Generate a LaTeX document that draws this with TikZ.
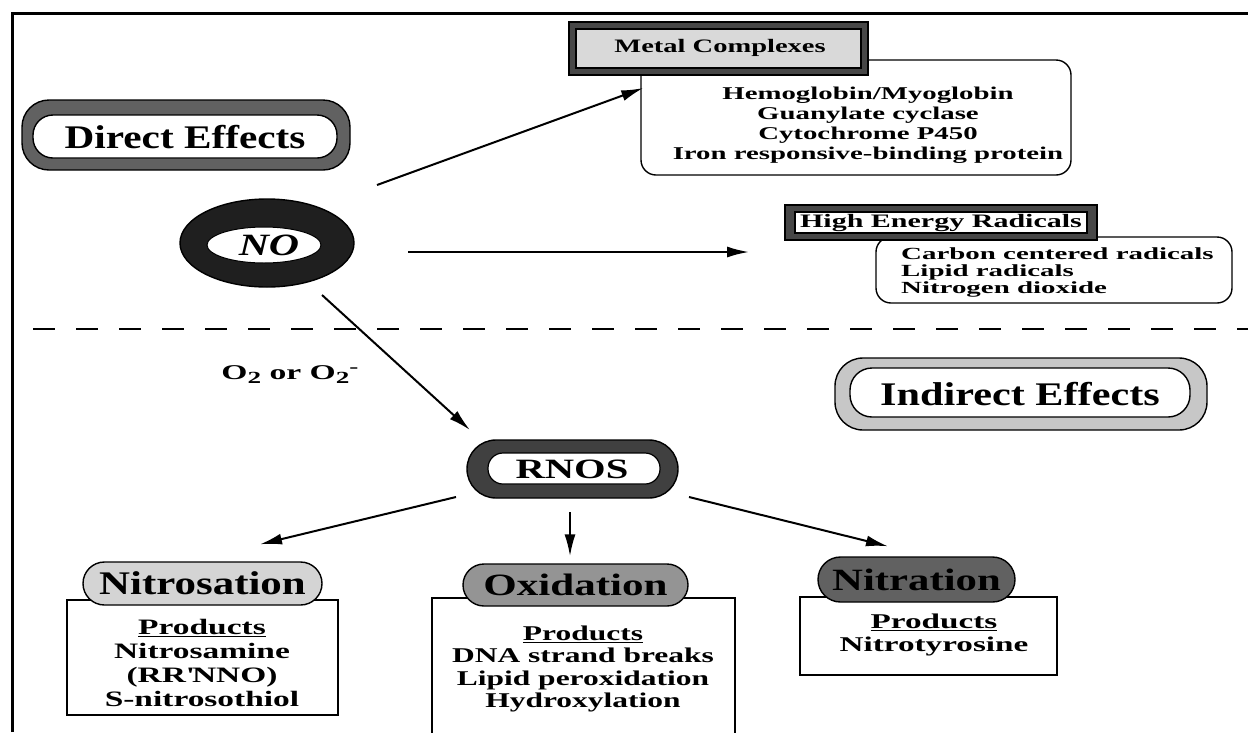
\documentclass[tikz,border=0pt]{standalone}
\usepackage{fontspec}
\setmainfont{Liberation Serif}
\usetikzlibrary{arrows.meta,shapes.misc,calc}
\tikzset{
  arr/.style={line width=2pt,-{Latex[length=22pt,width=11pt]}},
  tx/.style n args={3}{font=\fontsize{#1}{#2}\selectfont\bfseries\addfontfeatures{FakeStretch=#3},inner sep=0pt},
  listbox/.style={draw,line width=1.4pt,rounded corners=15pt,fill=white},
  prodbox/.style={draw,line width=1.4pt,fill=white},
  pill/.style={draw,line width=1.4pt,rounded rectangle,inner sep=0pt},
}
\begin{document}
\begin{tikzpicture}[x=1pt,y=-1pt]
\useasboundingbox (0,0) rectangle (1248,732);
% frame
\draw[line width=3pt] (12,732) -- (12,13) -- (1248,13);
% dashed separator
\draw[line width=1.5pt,dash pattern=on 22pt off 21pt] (33,329) -- (1248,329);

% Direct Effects
\draw[line width=1.4pt,fill=black!62,rounded corners=27pt] (22,100) rectangle (350,170);
\draw[line width=1.4pt,fill=white,rounded corners=20pt] (33,115) rectangle (337,158);
\node[tx={33}{33}{1.25}] (direct) at (185,137) {Direct Effects};

% NO
\draw[line width=1.4pt,fill=black!88] (267,243) ellipse [x radius=87,y radius=44];
\draw[line width=1pt,fill=white] (264,245) ellipse [x radius=57,y radius=18];
\node[font=\fontsize{31}{31}\selectfont\bfseries\itshape\addfontfeatures{FakeStretch=1.35},inner sep=0pt] (no) at (269,245) {NO};

% Metal list
\node[listbox,minimum width=430pt,minimum height=115pt] (ml) at (856,117.5) {};
\node[tx={18}{20}{1.6},align=center] (mltext) at (868,125) {Hemoglobin/Myoglobin\\Guanylate cyclase\\Cytochrome P450\\Iron responsive-binding protein};
% Metal Complexes
\draw[line width=1.4pt,fill=black!72] (569,22) rectangle (868,75);
\draw[line width=1.2pt,fill=black!15] (576,29) rectangle (861,68);
\node[tx={19}{19}{1.5}] (metal) at (720,48) {Metal Complexes};

% High energy radicals list
\node[listbox,minimum width=356pt,minimum height=66pt] (hl) at (1054,270) {};
\node[tx={17}{17}{1.7},align=left,anchor=west] (hltext) at (901,272) {Carbon centered radicals\\Lipid radicals\\Nitrogen dioxide};
\draw[line width=1.4pt,fill=black!72] (785,205) rectangle (1097,240);
\draw[line width=1.2pt,fill=white] (795,212) rectangle (1087,233);
\node[tx={19}{19}{1.58}] (her) at (941,223) {High Energy Radicals};

% Indirect Effects
\draw[line width=1.4pt,fill=black!22,rounded corners=28pt] (835,358) rectangle (1207,430);
\draw[line width=1.4pt,fill=white,rounded corners=22pt] (850,368) rectangle (1190,417);
\node[tx={33}{33}{1.28}] (indirect) at (1020,394) {Indirect Effects};

% O2 label
\node[tx={21}{21}{1.6}] (o2) at (290,375) {O{\fontsize{17}{17}\selectfont\raisebox{-4pt}{2}} or O{\fontsize{17}{17}\selectfont\raisebox{-4pt}{2}\raisebox{7pt}{-}}};

% RNOS
\draw[line width=1.4pt,fill=black!75,rounded corners=29pt] (467,440) rectangle (678,498);
\draw[line width=1.2pt,fill=white,rounded corners=15pt] (488,453) rectangle (660,484);
\node[tx={28}{28}{1.45}] (rnos) at (572,469) {RNOS};

% Nitrosation
\node[prodbox,minimum width=271pt,minimum height=115pt] (nsbox) at (202.5,657.5) {};
\node[tx={22}{23.7}{1.52},align=center] (nstext) at (202,663) {\underline{Products}\\Nitrosamine\\(RR\textquotesingle NNO)\\S-nitrosothiol};
\node[pill,fill=black!17,minimum width=239pt,minimum height=43pt,tx={33}{33}{1.3}] (ns) at (202.5,583.5) {Nitrosation};

% Oxidation
\node[prodbox,minimum width=303pt,minimum height=142pt] (oxbox) at (583.5,669) {};
\node[tx={21}{22.5}{1.5},align=center] (oxtext) at (583,669) {\underline{Products}\\DNA strand breaks\\Lipid peroxidation\\Hydroxylation};
\node[pill,fill=black!42,minimum width=225pt,minimum height=42pt,tx={31}{31}{1.39}] (ox) at (575.5,585) {Oxidation};

% Nitration
\node[prodbox,minimum width=257pt,minimum height=78pt] (ntbox) at (928.5,636) {};
\node[tx={21}{22.5}{1.58},align=center] (nttext) at (934,635) {\underline{Products}\\Nitrotyrosine};
\node[pill,fill=black!62,minimum width=197pt,minimum height=45pt,tx={31}{31}{1.38}] (nt) at (916.5,579.5) {Nitration};

% connectors
\coordinate (s1) at (377,185);
\coordinate (s2) at (408,252);
\coordinate (e2) at (749,252);
\coordinate (s3) at (322,295);
\coordinate (e3) at (470,430);
\draw[arr] (s1) -- ($(ml.west)+(3,-29.5)$);
\draw[arr] (s2) -- (e2);
\draw[arr] (s3) -- (e3);
\coordinate (r1) at (456,497);
\coordinate (r2) at (570,512);
\coordinate (r3) at (689,497);
\draw[arr] (r1) -- ($(ns.north)+(57.5,-17)$);
\draw[arr] (r2) -- ($(ox.north)+(-5.5,-7)$);
\draw[arr] (r3) -- ($(nt.north)+(-28.5,-10)$);
\end{tikzpicture}
\end{document}
